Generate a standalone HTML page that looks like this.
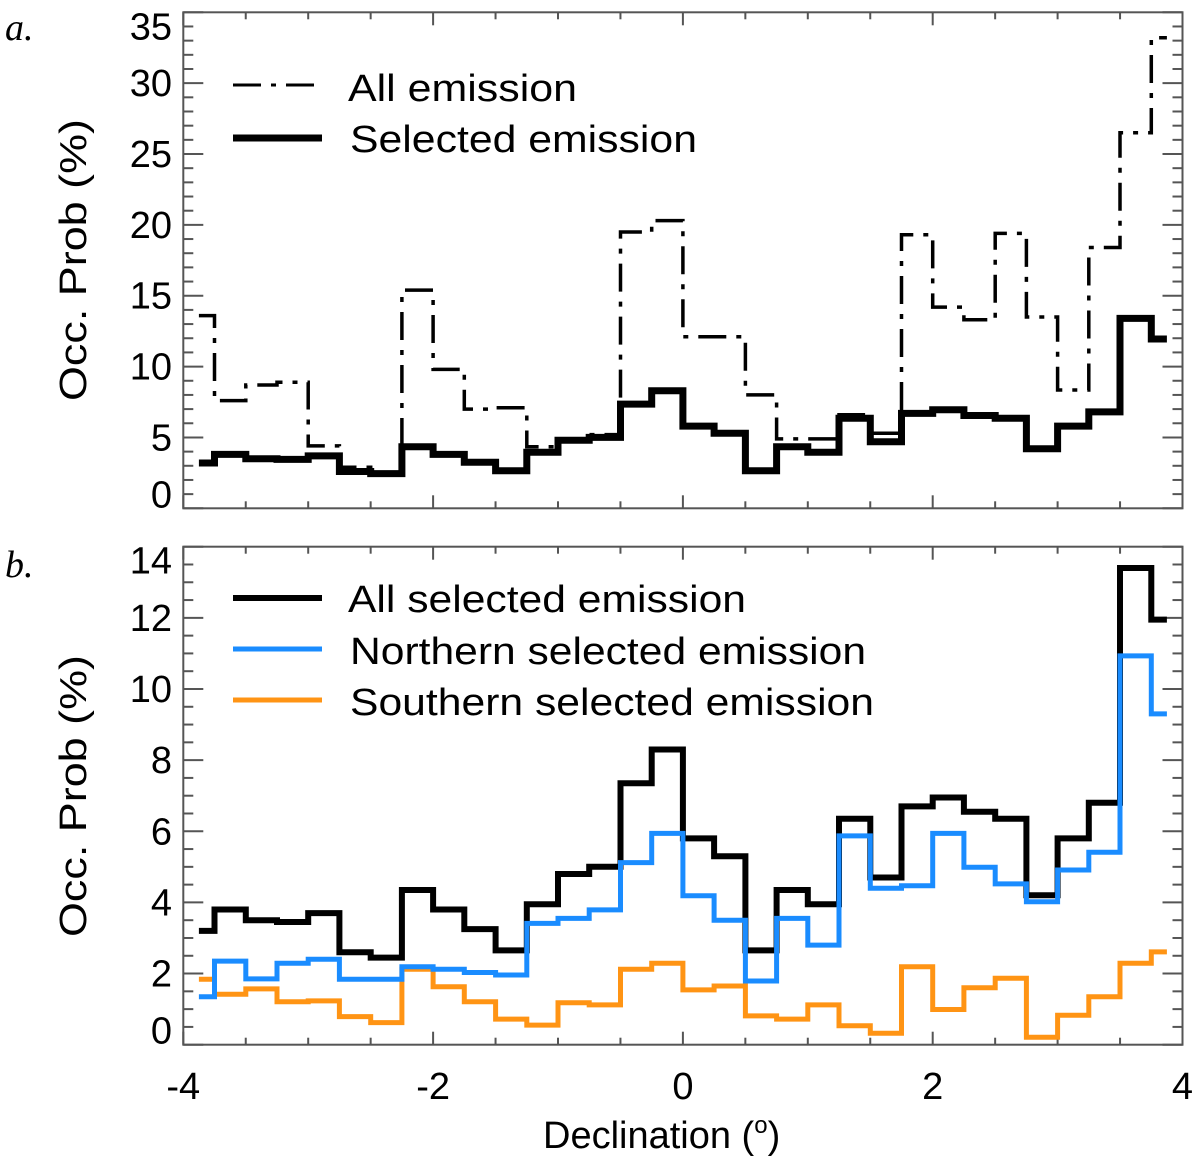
<!DOCTYPE html>
<html><head><meta charset="utf-8"><style>
body{margin:0;background:#fff;}
svg text{font-family:"Liberation Sans",sans-serif;fill:#000;}
</style></head><body>
<svg id="chart" width="1200" height="1166" viewBox="0 0 1200 1166" xmlns="http://www.w3.org/2000/svg">
<g id="axes"></g>
<g id="series"></g>
<g id="labels">
<text x="5" y="40" font-style="italic" font-size="38" style="font-family:'Liberation Serif',serif">a.</text>
<text x="5" y="577" font-style="italic" font-size="38" style="font-family:'Liberation Serif',serif">b.</text>
<text transform="translate(86,260) rotate(-90)" text-anchor="middle" font-size="38" textLength="282" lengthAdjust="spacingAndGlyphs">Occ. Prob (%)</text>
<text transform="translate(86,796) rotate(-90)" text-anchor="middle" font-size="38" textLength="282" lengthAdjust="spacingAndGlyphs">Occ. Prob (%)</text>
<text x="543" y="1148" font-size="38">Declination (<tspan font-size="24" dy="-15">o</tspan><tspan dy="15">)</tspan></text>
</g>
<g id="legend">
<line x1="233" y1="85" x2="322" y2="85" stroke="#000" stroke-width="3" stroke-dasharray="28,10,5,10"/>
<text x="348" y="101" font-size="38" textLength="229" lengthAdjust="spacingAndGlyphs">All emission</text>
<line x1="233" y1="138" x2="322" y2="138" stroke="#000" stroke-width="7"/>
<text x="350" y="152" font-size="38" textLength="347" lengthAdjust="spacingAndGlyphs">Selected emission</text>
<line x1="233" y1="598" x2="322" y2="598" stroke="#000" stroke-width="6"/>
<text x="348" y="612" font-size="38" textLength="398" lengthAdjust="spacingAndGlyphs">All selected emission</text>
<line x1="233" y1="649" x2="322" y2="649" stroke="#1a8cff" stroke-width="5"/>
<text x="350" y="664" font-size="38" textLength="516" lengthAdjust="spacingAndGlyphs">Northern selected emission</text>
<line x1="233" y1="700" x2="322" y2="700" stroke="#ff9414" stroke-width="5"/>
<text x="350" y="715" font-size="38" textLength="524" lengthAdjust="spacingAndGlyphs">Southern selected emission</text>
</g>
</svg>
<script>
const centers = [];
for (let i = 0; i < 32; i++) centers.push(-3.875 + 0.25 * i);
const allEmission = [13.6,7.6,8.7,8.9,4.4,2.9,2.5,15.4,9.8,7.0,7.1,4.35,4.9,5.2,19.5,20.3,12.1,12.1,8.0,4.9,4.9,6.6,5.3,19.3,14.2,13.3,19.4,13.5,8.35,18.4,26.5,33.2];
const selectedEmission = [3.2,3.8,3.5,3.45,3.7,2.6,2.45,4.35,3.8,3.25,2.65,3.95,4.8,5.0,7.35,8.3,5.8,5.3,2.65,4.35,3.95,6.35,4.7,6.7,6.95,6.55,6.35,4.2,5.8,6.8,13.4,11.95];
const northern = [1.35,2.35,1.85,2.29,2.4,1.84,1.84,2.19,2.12,2.03,1.96,3.41,3.55,3.79,5.12,5.94,4.19,3.5,1.79,3.55,2.8,5.87,4.4,4.47,5.94,4.99,4.52,4.02,4.91,5.41,10.93,9.3];
const southern = [1.84,1.42,1.57,1.21,1.23,0.79,0.62,2.12,1.63,1.21,0.72,0.55,1.18,1.12,2.12,2.29,1.54,1.65,0.81,0.72,1.12,0.53,0.32,2.19,0.99,1.6,1.87,0.21,0.83,1.35,2.29,2.61];
const xTicks = [-4,-2,0,2,4];
const yTicksA = [0,5,10,15,20,25,30,35];
const yTicksB = [0,2,4,6,8,10,12,14];

const NS = "http://www.w3.org/2000/svg";
const X0 = 183.3, X1 = 1182.5;
const xs = v => X0 + (v + 4) / 8 * (X1 - X0);
const pa = {top: 12.3, bot: 508.3, min: 0, max: 35};
const pb = {top: 546.7, bot: 1044.7, min: 0, max: 14};
const ys = (p, v) => p.bot - (v - p.min) / (p.max - p.min) * (p.bot - p.top);
const axes = document.getElementById('axes');
const series = document.getElementById('series');
function mk(tag, attrs, parent) {
  const e = document.createElementNS(NS, tag);
  for (const k in attrs) e.setAttribute(k, attrs[k]);
  parent.appendChild(e);
  return e;
}
function drawPanel(p, yTicks, minorStep, majorStep, name) {
  const box = mk('rect', {x: X0, y: p.top, width: X1 - X0, height: p.bot - p.top, fill: 'none', stroke: '#555', 'stroke-width': 2}, axes);
  
  
  for (let v = p.min; v <= p.max + 1e-6; v += minorStep) {
    const major = Math.abs(v / majorStep - Math.round(v / majorStep)) < 1e-6;
    const len = major ? 20 : 10;
    const y = ys(p, v);
    mk('line', {x1: X0, x2: X0 + len, y1: y, y2: y, stroke: '#555', 'stroke-width': 2}, axes);
    mk('line', {x1: X1, x2: X1 - len, y1: y, y2: y, stroke: '#555', 'stroke-width': 2}, axes);
  }
  for (let v = -4; v <= 4.0001; v += 0.5) {
    const major = Math.abs(v / 2 - Math.round(v / 2)) < 1e-6;
    const len = major ? 13 : 7;
    const x = xs(v);
    mk('line', {x1: x, x2: x, y1: p.bot, y2: p.bot - len, stroke: '#555', 'stroke-width': 2}, axes);
    mk('line', {x1: x, x2: x, y1: p.top, y2: p.top + len, stroke: '#555', 'stroke-width': 2}, axes);
  }
  yTicks.forEach((v, i) => {
    let y = ys(p, v) + 13;
    if (i === 0) y -= 14;
    if (i === yTicks.length - 1) y += 14;
    const t = mk('text', {x: 172, y: y, 'text-anchor': 'end', 'font-size': 38}, axes);
    t.textContent = v;
    
    
  });
}
drawPanel(pa, yTicksA, 1, 5, 'panel-a');
drawPanel(pb, yTicksB, 0.5, 2, 'panel-b');
xTicks.forEach(v => {
  const t = mk('text', {x: xs(v), y: 1099, 'text-anchor': 'middle', 'font-size': 38}, axes);
  t.textContent = v;
  
  
});
function stepPath(p, vals) {
  let d = '';
  const hw = 0.125;
  vals.forEach((v, i) => {
    const c = centers[i];
    const xa = i === 0 ? xs(c) : xs(c - hw);
    const xb = i === vals.length - 1 ? xs(c) : xs(c + hw);
    const y = ys(p, v);
    d += (i === 0 ? 'M' : 'L') + xa.toFixed(1) + ',' + y.toFixed(1) + 'L' + xb.toFixed(1) + ',' + y.toFixed(1);
  });
  return d;
}
let e;
e = mk('path', {d: stepPath(pa, allEmission), fill: 'none', stroke: '#000', 'stroke-width': 3.5, 'stroke-dasharray': '28,10,5,10'}, series);


e = mk('path', {d: stepPath(pa, selectedEmission), fill: 'none', stroke: '#000', 'stroke-width': 7}, series);


e = mk('path', {d: stepPath(pb, southern), fill: 'none', stroke: '#ff9414', 'stroke-width': 5}, series);


e = mk('path', {d: stepPath(pb, selectedEmission), fill: 'none', stroke: '#000', 'stroke-width': 6}, series);


e = mk('path', {d: stepPath(pb, northern), fill: 'none', stroke: '#1a8cff', 'stroke-width': 5}, series);


</script>
</body></html>
